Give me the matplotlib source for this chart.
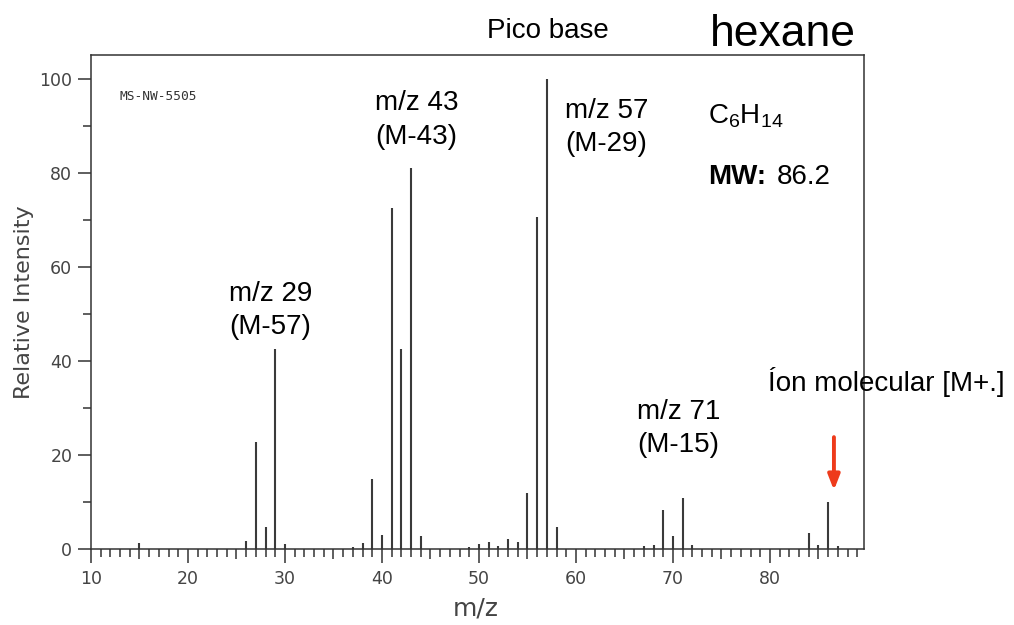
import matplotlib.pyplot as plt
from matplotlib.ticker import MultipleLocator

# hexane mass spectrum
mz = [15, 26, 27, 28, 29, 30, 37, 38, 39, 40, 41, 42, 43, 44,
      49, 50, 51, 52, 53, 54, 55, 56, 57, 58,
      67, 68, 69, 70, 71, 72, 84, 85, 86, 87]
intensity = [1.3, 1.7, 22.7, 4.7, 42.5, 1.1, 0.5, 1.3, 14.9, 3.0, 72.6, 42.5, 81.0, 2.7,
             0.5, 1.0, 1.4, 0.7, 2.2, 1.4, 12.0, 70.7, 100, 4.6,
             0.6, 0.9, 8.4, 2.7, 10.9, 0.9, 3.3, 0.9, 10.1, 0.7]

x_ticks = [10, 20, 30, 40, 50, 60, 70, 80]
y_ticks = [0, 20, 40, 60, 80, 100]

label_29 = ['m/z 29', '(M-57)']
label_43 = ['m/z 43', '(M-43)']
label_57 = ['m/z 57', '(M-29)']
label_71 = ['m/z 71', '(M-15)']
molecular_ion = 86

W, H = 1014, 625

plt.rcParams['font.family'] = ['Liberation Sans', 'DejaVu Sans']
plt.rcParams['mathtext.fontset'] = 'custom'
plt.rcParams['mathtext.rm'] = 'Liberation Sans'

fig = plt.figure(figsize=(W / 100, H / 100), dpi=100)
ax = fig.add_axes([91 / W, 1 - 549 / H, (864 - 91) / W, (549 - 55) / H])

ax.vlines(mz, 0, intensity, colors='#3a3a3a', linewidth=1.5)

ax.set_xlim(10, 89.7)
ax.set_ylim(0, 105.1)
ax.set_xticks(x_ticks)
ax.set_yticks(y_ticks)
ax.xaxis.set_minor_locator(MultipleLocator(1))
ax.yaxis.set_minor_locator(MultipleLocator(10))

axis_grey = '#333333'
for s in ax.spines.values():
    s.set_color(axis_grey)
    s.set_linewidth(1.1)
ax.tick_params(which='both', direction='out', color=axis_grey, width=1.1,
               labelcolor='#444444', labelsize=12.5)
ax.tick_params(axis='x', which='major', length=10, pad=5)
ax.tick_params(axis='x', which='minor', length=5.5)
ax.tick_params(axis='y', which='major', length=9.5, pad=4)
ax.tick_params(axis='y', which='minor', length=6)
for lab in ax.get_xticklabels() + ax.get_yticklabels():
    lab.set_family('DejaVu Sans')

# the ticks at every fifth m/z are a bit longer
for loc, t in zip(ax.xaxis.get_minorticklocs(), ax.xaxis.get_minor_ticks()):
    if round(loc) % 5 == 0:
        t.tick1line.set_markersize(7)

ax.set_xlabel('m/z', family='DejaVu Sans', fontsize=18, color='#444444')
ax.set_ylabel('Relative Intensity', family='DejaVu Sans', fontsize=16, color='#444444')
ax.xaxis.set_label_coords(0.498, -0.097)
ax.yaxis.set_label_coords(-0.074, 0.5)

ax.text(0.0375, 0.917, 'MS-NW-5505', transform=ax.transAxes, family='DejaVu Sans Mono',
        fontsize=9.3, color='#333333', va='center')


def put(text, px, py, **kw):
    opts = dict(va='baseline', fontsize=20, color='black')
    opts.update(kw)
    fig.text(px / W, 1 - py / H, text, **opts)


def put_pair(lines, px, py):
    put(lines[0], px, py)
    put(lines[1], px, py + 33.5)


put('Pico base', 548, 38, ha='center')
put('hexane', 783, 46, ha='center', fontsize=32)

put_pair(label_43, 375, 110)
put_pair(label_57, 565, 118)
put_pair(label_29, 229, 301)
put_pair(label_71, 637, 419)

put(r'C$_6$H$_{14}$', 708, 123)
put('MW:', 708, 184, weight='bold')
put('86.2', 777, 184)
put('Íon molecular [M+.]', 768, 391)

peak_top = intensity[mz.index(molecular_ion)]
ax.annotate('', xy=(molecular_ion + 0.6, peak_top + 2.4), xytext=(molecular_ion + 0.6, peak_top + 13.7),
            arrowprops=dict(arrowstyle='-|>,head_width=0.35,head_length=0.9', color='#ee3b1b',
                            lw=2.8, shrinkA=0, shrinkB=0))

fig.savefig('out.png', dpi=100)
